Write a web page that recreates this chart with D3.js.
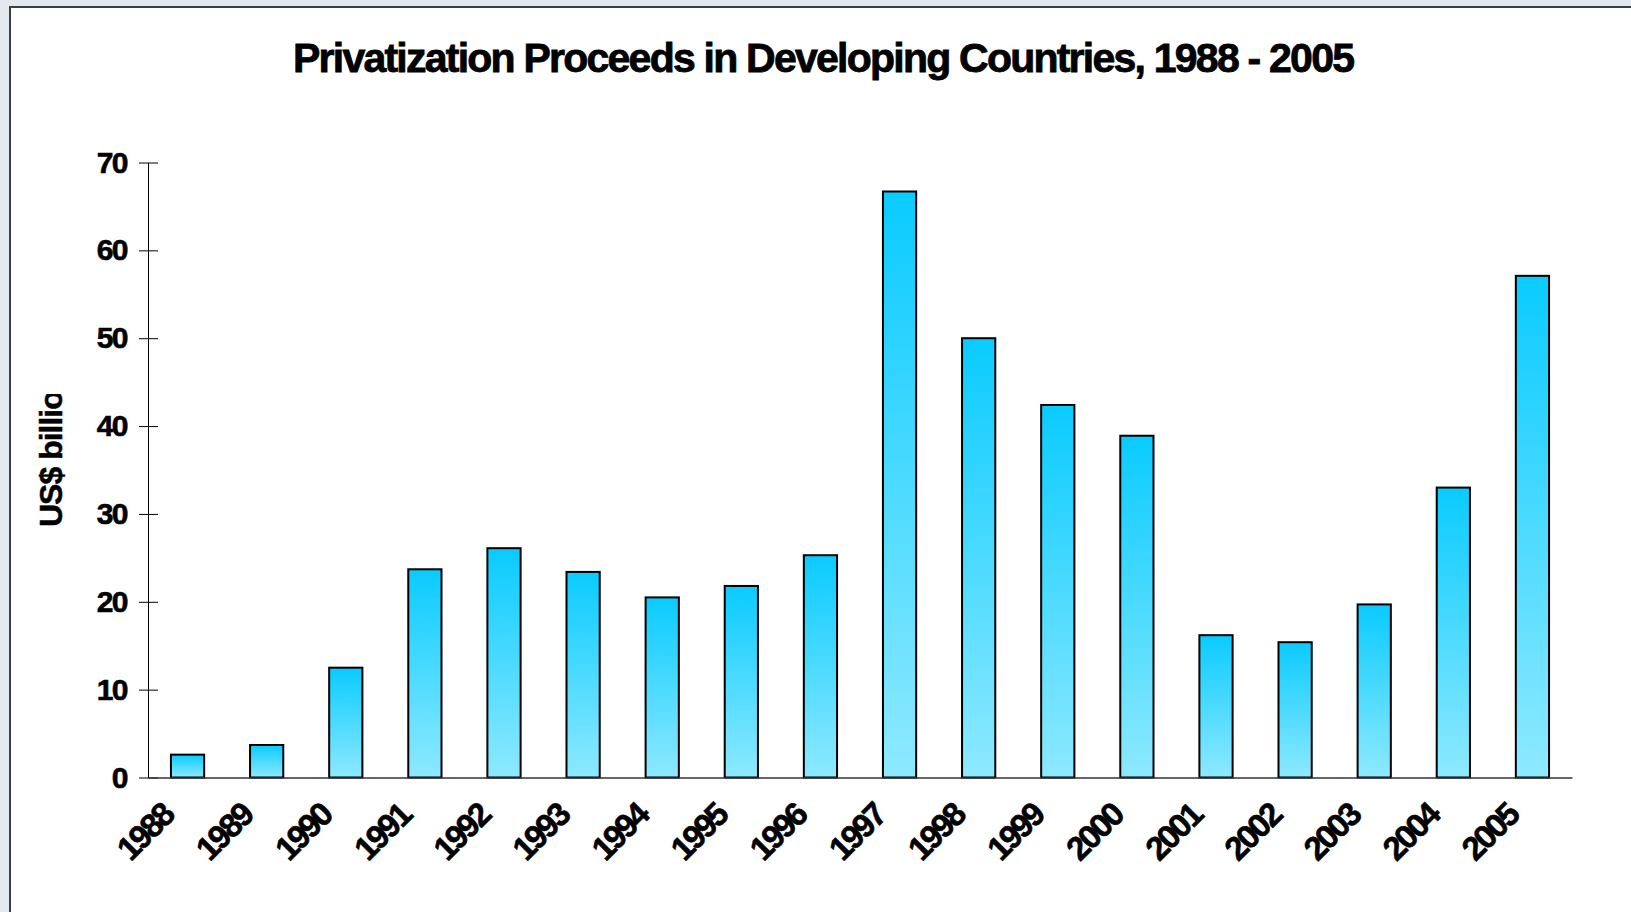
<!DOCTYPE html>
<html>
<head>
<meta charset="utf-8">
<script src="https://cdn.jsdelivr.net/npm/d3@7"></script>
<style>
  html, body { margin: 0; padding: 0; background: #e2e8ee; }
  svg { display: block; font-family: "Liberation Sans", Arial, sans-serif; }
</style>
</head>
<body>
<div id="chart"></div>
<script>
const years = ['1988', '1989', '1990', '1991', '1992', '1993', '1994', '1995', '1996',
               '1997', '1998', '1999', '2000', '2001', '2002', '2003', '2004', '2005'];
const proceeds = [2.6, 3.7, 12.5, 23.7, 26.1, 23.4, 20.5, 21.8, 25.3,
                  66.7, 50.0, 42.4, 38.9, 16.2, 15.4, 19.7, 33.0, 57.1];
const yTicks = [0, 10, 20, 30, 40, 50, 60, 70];
const title = 'Privatization Proceeds in Developing Countries, 1988 - 2005';
const yLabel = 'US$ billions';

const svgWidth = 1631,
      svgHeight = 912;

const svg = d3.select('#chart')
    .append('svg')
    .attr('width', svgWidth)
    .attr('height', svgHeight);

// white panel with dark frame
svg.append('rect')
    .attr('x', 10).attr('y', 7)
    .attr('width', svgWidth).attr('height', svgHeight)
    .attr('fill', '#fff')
    .attr('stroke', '#3a3f44')
    .attr('stroke-width', 2);

const defs = svg.append('defs');
const grad = defs.append('linearGradient')
    .attr('id', 'barFill')
    .attr('x1', 0).attr('y1', 0).attr('x2', 0).attr('y2', 1);
grad.append('stop').attr('offset', '0%').attr('stop-color', '#0acbff');
grad.append('stop').attr('offset', '100%').attr('stop-color', '#8ee9ff');

defs.append('clipPath').attr('id', 'labelClip')
    .append('rect')
    .attr('x', 0).attr('y', 394).attr('width', 100).attr('height', 300);

const data = years.map((y, i) => ({year: y, value: proceeds[i]}));

const x = d3.scaleBand()
    .domain(years)
    .range([148, 1572])
    .paddingInner(0.58)
    .paddingOuter(0.29);

const y = d3.scaleLinear()
    .domain([0, 70])
    .range([777.5, 162.5]);

// title
svg.append('text')
    .attr('x', 293)
    .attr('y', 72)
    .attr('textLength', 1062)
    .attr('lengthAdjust', 'spacing')
    .style('font-size', '41px')
    .style('font-weight', 'bold')
    .style('fill', '#000')
    .style('stroke', '#000')
    .style('stroke-width', 0.8)
    .text(title);

// y axis
const yAxis = svg.append('g')
    .attr('transform', 'translate(148, 0)')
    .call(d3.axisLeft(y).tickValues(yTicks).tickSize(9).tickSizeOuter(0).tickPadding(12));

yAxis.select('.domain').attr('stroke', '#000');
yAxis.selectAll('.tick line').attr('x1', 10).attr('x2', -9).attr('stroke', '#000');
yAxis.selectAll('.tick text')
    .style('font-size', '30px')
    .style('font-weight', 'bold')
    .style('letter-spacing', '-1.5px')
    .style('stroke', '#000')
    .style('stroke-width', 0.6)
    .attr('fill', '#000');

// y label, clipped like the original
svg.append('g')
    .attr('clip-path', 'url(#labelClip)')
    .append('text')
    .attr('transform', 'translate(62, 527) rotate(-90)')
    .style('font-size', '32px')
    .style('font-weight', 'bold')
    .style('letter-spacing', '-1px')
    .style('stroke', '#000')
    .style('stroke-width', 0.5)
    .text(yLabel);

// bars
svg.selectAll('.bar')
    .data(data)
    .enter()
    .append('rect')
    .attr('class', 'bar')
    .attr('x', d => x(d.year))
    .attr('y', d => y(d.value))
    .attr('width', x.bandwidth())
    .attr('height', d => y(0) - y(d.value))
    .attr('fill', 'url(#barFill)')
    .attr('stroke', '#000')
    .attr('stroke-width', 2);

// x axis
const xAxis = svg.append('g')
    .attr('transform', `translate(0, ${y(0)})`)
    .call(d3.axisBottom(x).tickSize(0).tickSizeOuter(0));

xAxis.select('.domain').attr('stroke', '#333').attr('stroke-width', 1.5);
xAxis.selectAll('.tick text')
    .attr('x', 0).attr('y', 0).attr('dy', 0)
    .attr('text-anchor', 'end')
    .attr('transform', 'translate(-12, 40) rotate(-45)')
    .style('font-size', '33px')
    .style('font-weight', 'bold')
    .style('letter-spacing', '-2.5px')
    .style('stroke', '#000')
    .style('stroke-width', 0.6)
    .attr('fill', '#000');
</script>
</body>
</html>
